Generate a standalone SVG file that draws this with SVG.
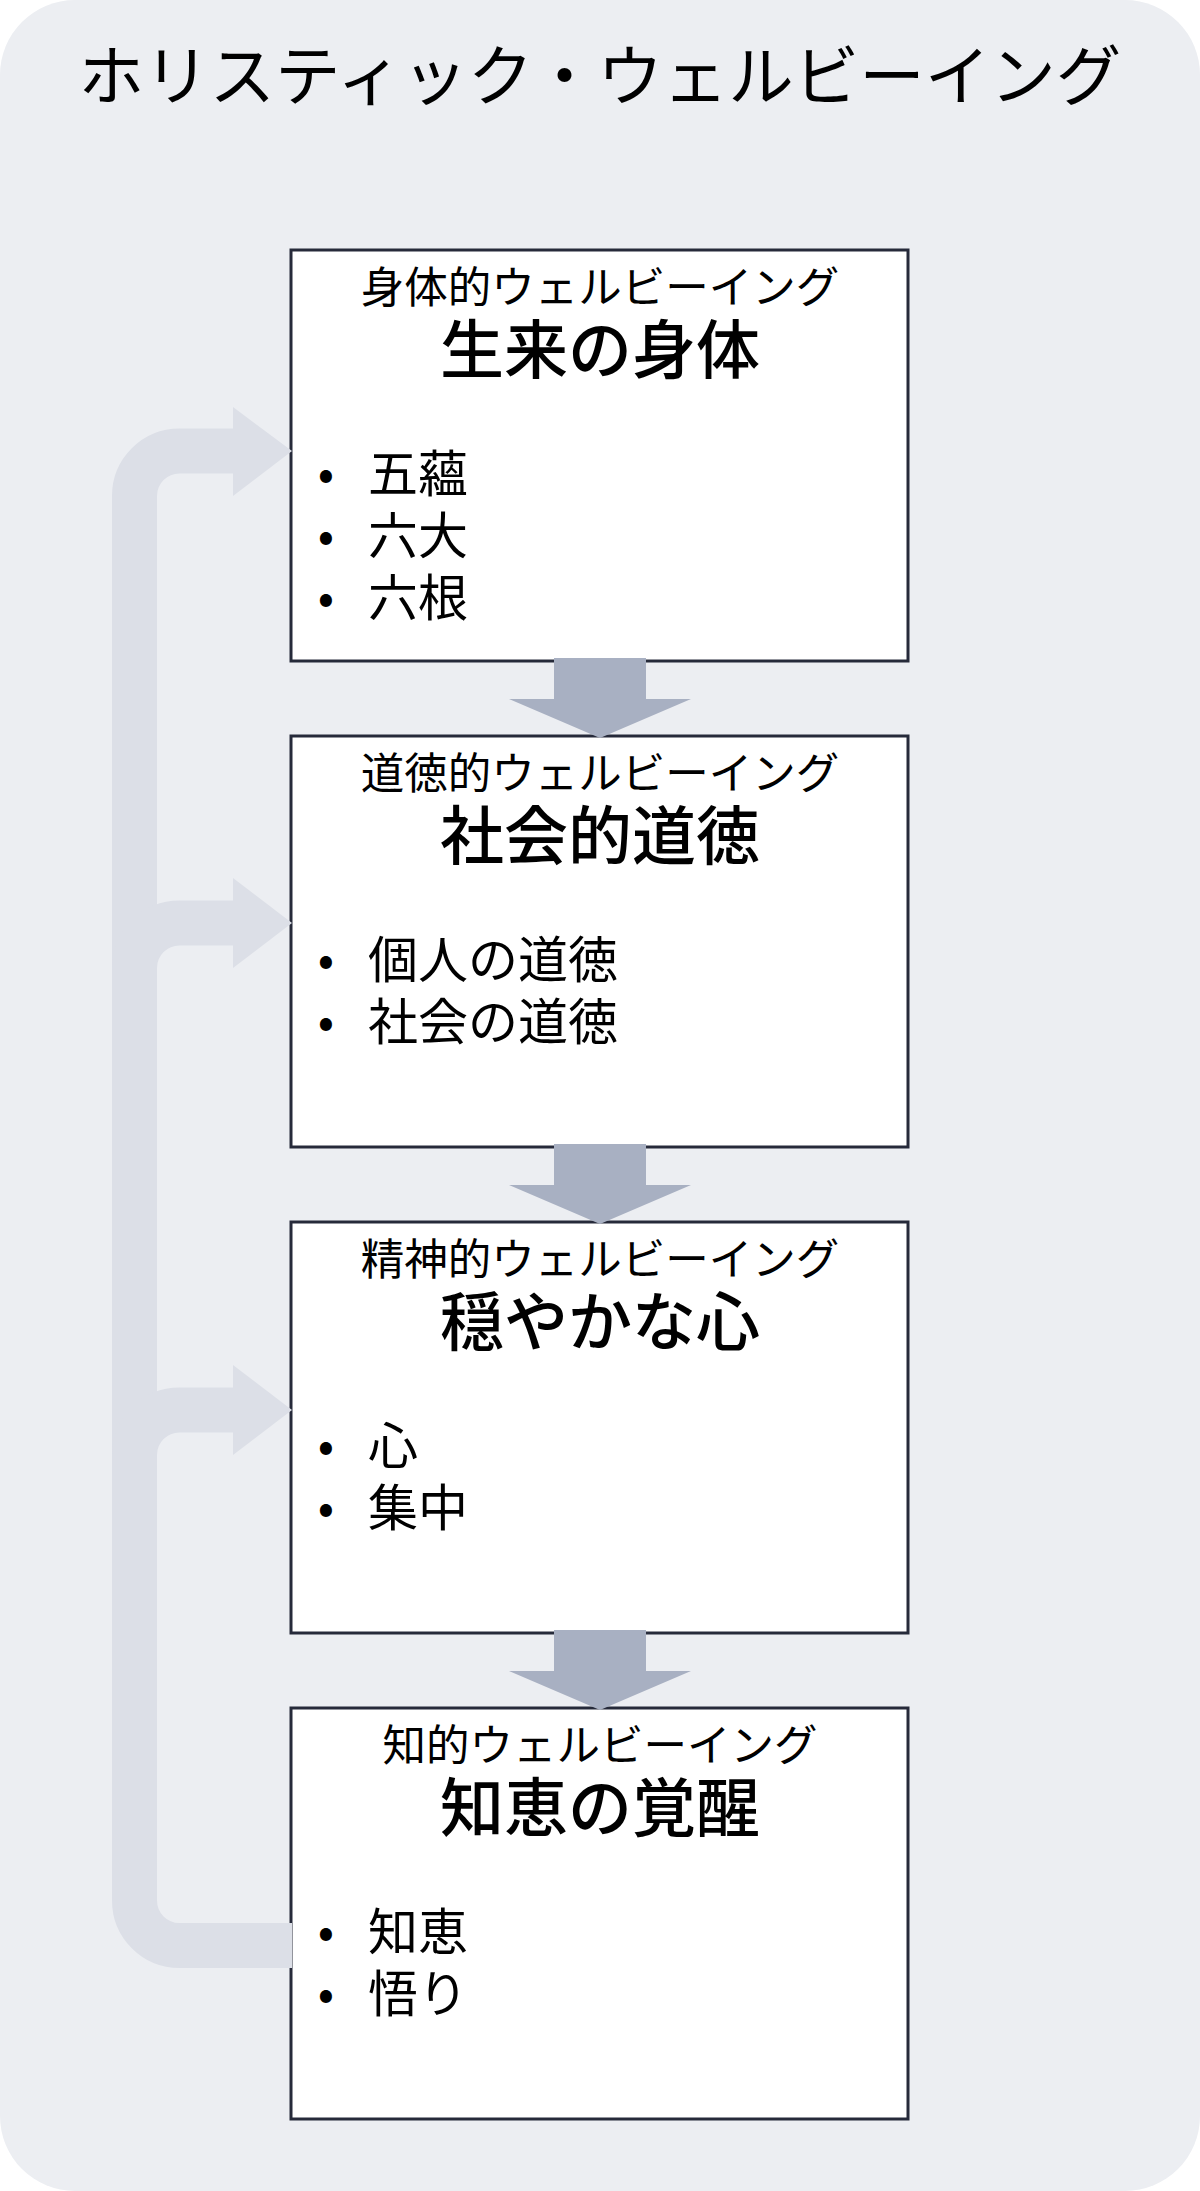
<svg xmlns="http://www.w3.org/2000/svg" width="1200" height="2191" viewBox="0 0 1200 2191">
<style>
text { font-family: 'Noto Sans CJK JP', 'Noto Sans', sans-serif; fill: #000; }
.title { font-size: 65.5px; text-anchor: middle; }
.sub { font-size: 43.5px; text-anchor: middle; }
.head { font-size: 64px; font-weight: 500; text-anchor: middle; }
.item { font-size: 50px; }
.dot { font-size: 48px; text-anchor: middle; }
.box { fill: #ffffff; stroke: #262a3a; stroke-width: 3; }
.band { fill: none; stroke: #dcdfe7; stroke-width: 45; }
.bandhead { fill: #dcdfe7; }
.down { fill: #a8b0c2; }
</style>
<rect x="0" y="0" width="1200" height="2191" fill="#ffffff"/>
<rect id="background" x="0" y="0" width="1200" height="2191" rx="75" ry="75" fill="#eceef2"/>
<text id="title" class="title" x="600" y="100">ホリスティック・ウェルビーイング</text>

<g id="node-physical">
<rect class="box" x="291" y="250" width="617" height="411"/>
<text class="sub" x="600" y="303">身体的ウェルビーイング</text>
<text class="head" x="600" y="373">生来の身体</text>
<text class="dot" x="326" y="491">•</text><text class="item" x="368" y="492">五蘊</text>
<text class="dot" x="326" y="553">•</text><text class="item" x="368" y="554">六大</text>
<text class="dot" x="326" y="615">•</text><text class="item" x="368" y="616">六根</text>
</g>

<g id="node-moral">
<rect class="box" x="291" y="736" width="617" height="411"/>
<text class="sub" x="600" y="789">道徳的ウェルビーイング</text>
<text class="head" x="600" y="859">社会的道徳</text>
<text class="dot" x="326" y="977">•</text><text class="item" x="368" y="978">個人の道徳</text>
<text class="dot" x="326" y="1039">•</text><text class="item" x="368" y="1040">社会の道徳</text>
</g>

<g id="node-mental">
<rect class="box" x="291" y="1222" width="617" height="411"/>
<text class="sub" x="600" y="1275">精神的ウェルビーイング</text>
<text class="head" x="600" y="1345">穏やかな心</text>
<text class="dot" x="326" y="1463">•</text><text class="item" x="368" y="1464">心</text>
<text class="dot" x="326" y="1525">•</text><text class="item" x="368" y="1526">集中</text>
</g>

<g id="node-intellectual">
<rect class="box" x="291" y="1708" width="617" height="411"/>
<text class="sub" x="600" y="1761">知的ウェルビーイング</text>
<text class="head" x="600" y="1831">知恵の覚醒</text>
<text class="dot" x="326" y="1949">•</text><text class="item" x="368" y="1950">知恵</text>
<text class="dot" x="326" y="2011">•</text><text class="item" x="368" y="2012">悟り</text>
</g>

<g id="connectors">
<path class="band" d="M292,1945.5 L179.5,1945.5 A45,45 0 0 1 134.5,1900.5 L134.5,496 A45,45 0 0 1 179.5,451 L234,451"/>
<polygon class="bandhead" points="233,407 292,451 233,496"/>
<path class="band" d="M134.5,1060 L134.5,968 A45,45 0 0 1 179.5,923 L234,923"/>
<polygon class="bandhead" points="233,878 292,923 233,968"/>
<path class="band" d="M134.5,1540 L134.5,1455 A45,45 0 0 1 179.5,1410 L234,1410"/>
<polygon class="bandhead" points="233,1365 292,1410 233,1455"/>
<polygon class="down" points="554,658 646,658 646,699 691,699 600,738 509,699 554,699"/>
<polygon class="down" points="554,1144 646,1144 646,1185 691,1185 600,1224 509,1185 554,1185"/>
<polygon class="down" points="554,1630 646,1630 646,1671 691,1671 600,1710 509,1671 554,1671"/>
</g>
</svg>
